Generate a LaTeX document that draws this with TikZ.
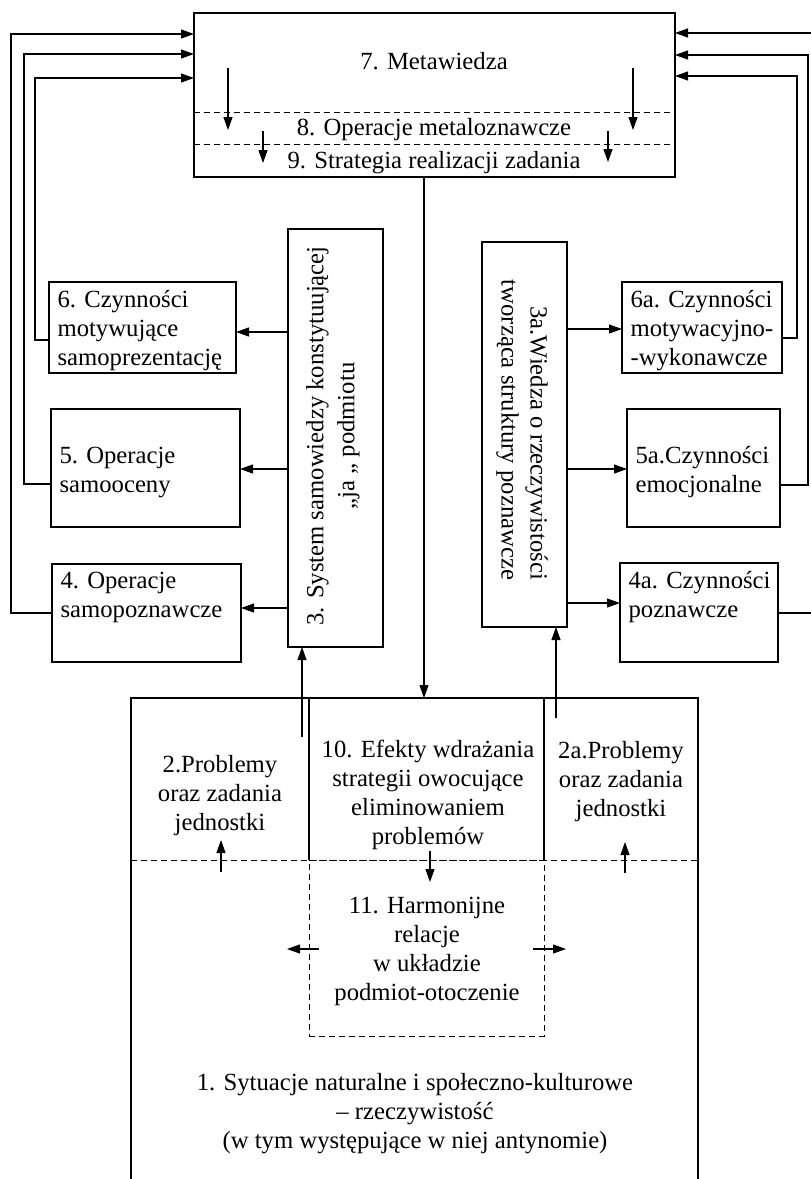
\documentclass[tikz,border=0pt]{standalone}
\usepackage{fontspec}
\setmainfont{Liberation Serif}
\usetikzlibrary{arrows.meta,fit,calc}
\begin{document}
\begin{tikzpicture}[x=1pt,y=-1pt,line width=1.1pt,
  font=\fontsize{24.7}{29}\selectfont,
  box/.style={draw, inner sep=0pt, outer sep=0pt},
  dbox/.style={draw, inner sep=0pt, outer sep=0pt, dash pattern=on 6pt off 4pt, line width=1pt},
  dsh/.style={dash pattern=on 6pt off 4pt, line width=1pt},
  arr/.style={-{Triangle[length=13pt,width=9pt]}},
  txt/.style={inner sep=0pt, align=center},
  ltxt/.style={inner sep=0pt, align=left, anchor=west}]
\fill[white] (0,0) rectangle (811,1179);
\useasboundingbox (0,0) rectangle (811,1179);

% top box
\node[box, fit={(194,13) (675,177)}] (meta) {};
\node[txt] (t7) at (434,61) {7. Metawiedza};
\node[txt] (t8) at (434,130) {8. Operacje metaloznawcze};
\node[txt] (t9) at (434,163) {9. Strategia realizacji zadania};
\draw[dsh] (meta.west |- 0,112) -- (meta.east |- 0,112);
\draw[dsh] (meta.west |- 0,144) -- (meta.east |- 0,144);
\coordinate (m1) at (228,68); \coordinate (m2) at (263,131);
\coordinate (m3) at (633,68); \coordinate (m4) at (608,131);
\draw[arr] (m1) -- (228,130);
\draw[arr] (m2) -- (263,163);
\draw[arr] (m3) -- (633,130);
\draw[arr] (m4) -- (608,162);

% left column
\node[box, fit={(288,229) (383,647)}] (b3) {};
\node[txt, rotate=90, font=\fontsize{24.7}{31}\selectfont] (t3) at (333,436) {3. System samowiedzy konstytuującej\\„ja „ podmiotu};
\node[box, fit={(49,282) (236,373)}] (b6) {};
\node[ltxt] (t6) at (57,331) {6. Czynności\\motywujące\\samoprezentację};
\node[box, fit={(51,409) (240,527)}] (b5) {};
\node[ltxt] (t5) at (59,472) {5. Operacje\\samooceny};
\node[box, fit={(52,564) (241,662)}] (b4) {};
\node[ltxt] (t4) at (60,597) {4. Operacje\\samopoznawcze};

% right column
\node[box, fit={(482,242) (567,627)}] (b3a) {};
\node[txt, rotate=-90, align=right] (t3a) at (522,430) {3a.Wiedza o rzeczywistości\\tworząca struktury poznawcze};
\node[box, fit={(622,282) (782,373)}] (b6a) {};
\node[ltxt] (t6a) at (630,331) {6a. Czynności\\motywacyjno-\\-wykonawcze};
\node[box, fit={(627,409) (780,527)}] (b5a) {};
\node[ltxt] (t5a) at (635,472) {5a.Czynności\\emocjonalne};
\node[box, fit={(620,563) (778,662)}] (b4a) {};
\node[ltxt] (t4a) at (628,597) {4a. Czynności\\poznawcze};

% arrows from 3 and 3a
\draw[arr] (b3.west |- 0,332) -- (b6.east |- 0,332);
\draw[arr] (b3.west |- 0,469) -- (b5.east |- 0,469);
\draw[arr] (b3.west |- 0,608) -- (b4.east |- 0,608);
\draw[arr] (b3a.east |- 0,329) -- (b6a.west |- 0,329);
\draw[arr] (b3a.east |- 0,469) -- (b5a.west |- 0,469);
\draw[arr] (b3a.east |- 0,603) -- (b4a.west |- 0,603);

% feedback loops
\draw[arr] (b6.west |- 0,340) -- (35,340) |- (meta.west |- 0,78);
\draw[arr] (b5.west |- 0,484) -- (24,484) |- (meta.west |- 0,54);
\draw[arr] (b4.west |- 0,613) -- (11,613) |- (meta.west |- 0,34);
\draw[arr] (b6a.east |- 0,338) -- (797,338) |- (meta.east |- 0,76);
\draw[arr] (b5a.east |- 0,485) -- (808,485) |- (meta.east |- 0,55);
\draw[arr] (b4a.east |- 0,613) -- (815,613) |- (meta.east |- 0,33);

% bottom box
\node[box, fit={(131,698) (698,1195)}] (sit) {};
\draw[arr] (meta.south -| 424,0) -- (sit.north -| 424,0);
\coordinate (u2) at (302,737); \coordinate (u2a) at (556,718);
\draw[arr] (u2) -- (b3.south -| u2);
\draw[arr] (u2a) -- (b3a.south -| u2a);

\draw (309,698) -- (309,860);
\draw (544,698) -- (544,860);
\draw[dsh] (sit.west |- 0,860) -- (sit.east |- 0,860);
\node[dbox, fit={(309,860) (544,1036)}] (harm) {};

\node[txt] (t2) at (220,796) {2.Problemy\\oraz zadania\\jednostki};
\node[txt] (t10) at (428,795) {10. Efekty wdrażania\\strategii owocujące\\eliminowaniem\\problemów};
\node[txt] (t2a) at (621,782) {2a.Problemy\\oraz zadania\\jednostki};
\node[txt] (t11) at (427,951) {11. Harmonijne\\relacje\\w układzie\\podmiot-otoczenie};
\node[txt] (t1) at (415,1114) {1. Sytuacje naturalne i społeczno-kulturowe\\– rzeczywistość\\(w tym występujące w niej antynomie)};

\coordinate (s1) at (221,872); \coordinate (s2) at (625,873);
\coordinate (s3) at (430,851); \coordinate (s4) at (319,949);
\coordinate (s5) at (533,949);
\draw[arr] (s1) -- (221,840);
\draw[arr] (s2) -- (625,842);
\draw[arr] (s3) -- (430,882);
\draw[arr] (s4) -- (287,949);
\draw[arr] (s5) -- (566,949);
\end{tikzpicture}
\end{document}
